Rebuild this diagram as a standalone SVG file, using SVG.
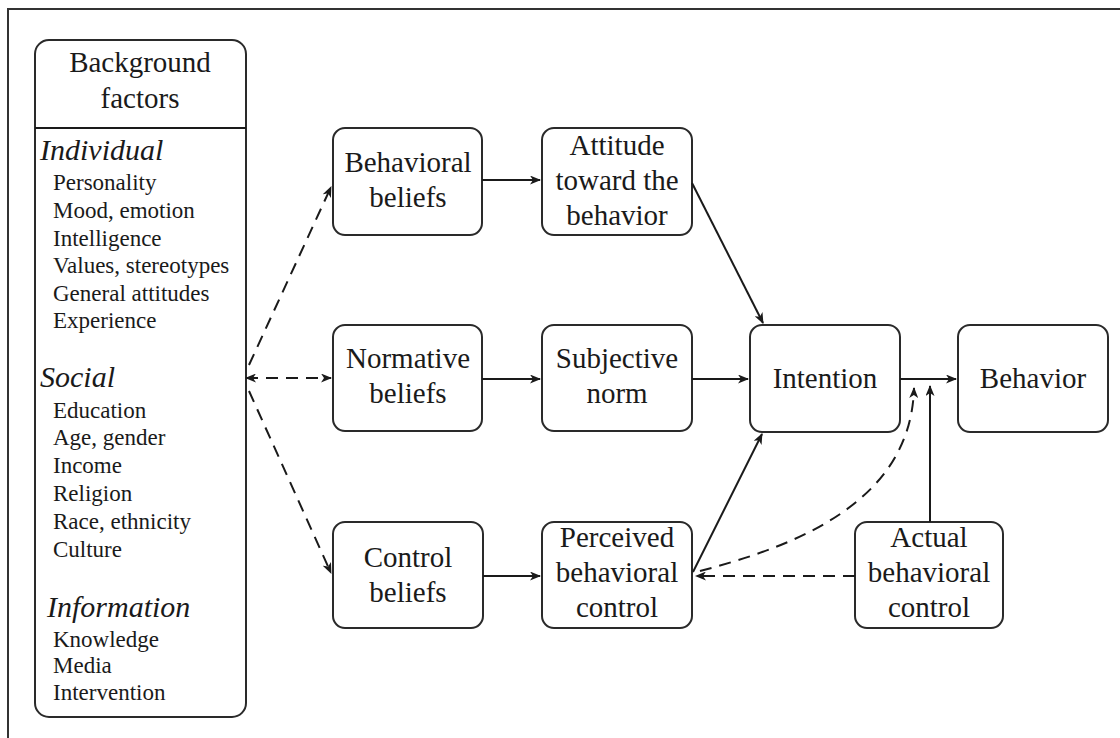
<svg xmlns="http://www.w3.org/2000/svg" width="1120" height="738" viewBox="0 0 1120 738">
  <style>
    .box { fill: #ffffff; stroke: #2a2a2a; stroke-width: 2; }
    .lbl { font-family: "Liberation Serif", "Times New Roman", serif; font-size: 29px; fill: #1a1a1a; text-anchor: middle; }
    .head { font-family: "Liberation Serif", "Times New Roman", serif; font-size: 30px; font-style: italic; fill: #1a1a1a; }
    .item { font-family: "Liberation Serif", "Times New Roman", serif; font-size: 23px; fill: #1a1a1a; }
    .solid { fill: none; stroke: #1a1a1a; stroke-width: 2; }
    .dash { fill: none; stroke: #1a1a1a; stroke-width: 2; stroke-dasharray: 12 8; }
  </style>
  <defs>
    <marker id="arrow" viewBox="0 0 11 9" refX="10" refY="4.5" markerWidth="11" markerHeight="9" markerUnits="userSpaceOnUse" orient="auto-start-reverse">
      <path d="M0,0 L11,4.5 L0,9 L3,4.5 Z" fill="#1a1a1a"/>
    </marker>
  </defs>

  <rect x="0" y="0" width="1120" height="738" fill="#ffffff"/>
  <!-- outer frame -->
  <path d="M8,738 V9 H1120" fill="none" stroke="#333" stroke-width="2"/>

  <!-- background factors panel -->
  <g id="background-factors">
    <rect class="box" x="35" y="40" width="211" height="677" rx="14"/>
    <line x1="35" y1="128" x2="246" y2="128" stroke="#1a1a1a" stroke-width="2"/>
    <text class="lbl" x="140" y="72">Background</text>
    <text class="lbl" x="140" y="108">factors</text>
    <text class="head" x="40" y="160">Individual</text>
    <text class="item" x="53" y="190">Personality</text>
    <text class="item" x="53" y="218">Mood, emotion</text>
    <text class="item" x="53" y="246">Intelligence</text>
    <text class="item" x="53" y="273">Values, stereotypes</text>
    <text class="item" x="53" y="301">General attitudes</text>
    <text class="item" x="53" y="328">Experience</text>
    <text class="head" x="40" y="387">Social</text>
    <text class="item" x="53" y="418">Education</text>
    <text class="item" x="53" y="445">Age, gender</text>
    <text class="item" x="53" y="473">Income</text>
    <text class="item" x="53" y="501">Religion</text>
    <text class="item" x="53" y="529">Race, ethnicity</text>
    <text class="item" x="53" y="557">Culture</text>
    <text class="head" x="47" y="617">Information</text>
    <text class="item" x="53" y="647">Knowledge</text>
    <text class="item" x="53" y="673">Media</text>
    <text class="item" x="53" y="700">Intervention</text>
  </g>

  <g id="behavioral-beliefs">
    <rect class="box" x="333" y="128" width="149" height="107" rx="12"/>
    <text class="lbl" x="408" y="172">Behavioral</text>
    <text class="lbl" x="408" y="207">beliefs</text>
  </g>
  <g id="attitude">
    <rect class="box" x="542" y="128" width="150" height="107" rx="12"/>
    <text class="lbl" x="617" y="155">Attitude</text>
    <text class="lbl" x="617" y="190">toward the</text>
    <text class="lbl" x="617" y="225">behavior</text>
  </g>
  <g id="normative-beliefs">
    <rect class="box" x="333" y="325" width="149" height="106" rx="12"/>
    <text class="lbl" x="408" y="368">Normative</text>
    <text class="lbl" x="408" y="403">beliefs</text>
  </g>
  <g id="subjective-norm">
    <rect class="box" x="542" y="325" width="150" height="106" rx="12"/>
    <text class="lbl" x="617" y="368">Subjective</text>
    <text class="lbl" x="617" y="403">norm</text>
  </g>
  <g id="intention">
    <rect class="box" x="750" y="325" width="150" height="107" rx="12"/>
    <text class="lbl" x="825" y="388">Intention</text>
  </g>
  <g id="behavior">
    <rect class="box" x="958" y="325" width="150" height="107" rx="12"/>
    <text class="lbl" x="1033" y="388">Behavior</text>
  </g>
  <g id="control-beliefs">
    <rect class="box" x="333" y="522" width="150" height="106" rx="12"/>
    <text class="lbl" x="408" y="567">Control</text>
    <text class="lbl" x="408" y="602">beliefs</text>
  </g>
  <g id="perceived-control">
    <rect class="box" x="542" y="522" width="150" height="106" rx="12"/>
    <text class="lbl" x="617" y="547">Perceived</text>
    <text class="lbl" x="617" y="582">behavioral</text>
    <text class="lbl" x="617" y="617">control</text>
  </g>
  <g id="actual-control">
    <rect class="box" x="855" y="522" width="148" height="106" rx="12"/>
    <text class="lbl" x="929" y="547">Actual</text>
    <text class="lbl" x="929" y="582">behavioral</text>
    <text class="lbl" x="929" y="617">control</text>
  </g>

  <g id="connectors">
    <!-- background factors to belief boxes -->
    <line class="dash" x1="246" y1="378" x2="331" y2="378" marker-start="url(#arrow)" marker-end="url(#arrow)"/>
    <line class="dash" x1="249" y1="365" x2="331" y2="187" marker-end="url(#arrow)"/>
    <line class="dash" x1="249" y1="391" x2="331" y2="573" marker-end="url(#arrow)"/>
    <!-- beliefs to evaluations -->
    <line class="solid" x1="482" y1="180" x2="540" y2="180" marker-end="url(#arrow)"/>
    <line class="solid" x1="482" y1="379" x2="540" y2="379" marker-end="url(#arrow)"/>
    <line class="solid" x1="483" y1="576" x2="540" y2="576" marker-end="url(#arrow)"/>
    <!-- evaluations to intention -->
    <line class="solid" x1="692" y1="183" x2="763" y2="323" marker-end="url(#arrow)"/>
    <line class="solid" x1="692" y1="379" x2="748" y2="379" marker-end="url(#arrow)"/>
    <line class="solid" x1="693" y1="572" x2="762" y2="434" marker-end="url(#arrow)"/>
    <!-- intention to behavior -->
    <line class="solid" x1="900" y1="379" x2="956" y2="379" marker-end="url(#arrow)"/>
    <!-- actual control -->
    <line class="solid" x1="930" y1="522" x2="930" y2="386" marker-end="url(#arrow)"/>
    <line class="dash" x1="855" y1="576" x2="696" y2="576" marker-end="url(#arrow)"/>
    <path class="dash" d="M700,571 C800,545 911,500 914,388" marker-end="url(#arrow)"/>
  </g>
</svg>
